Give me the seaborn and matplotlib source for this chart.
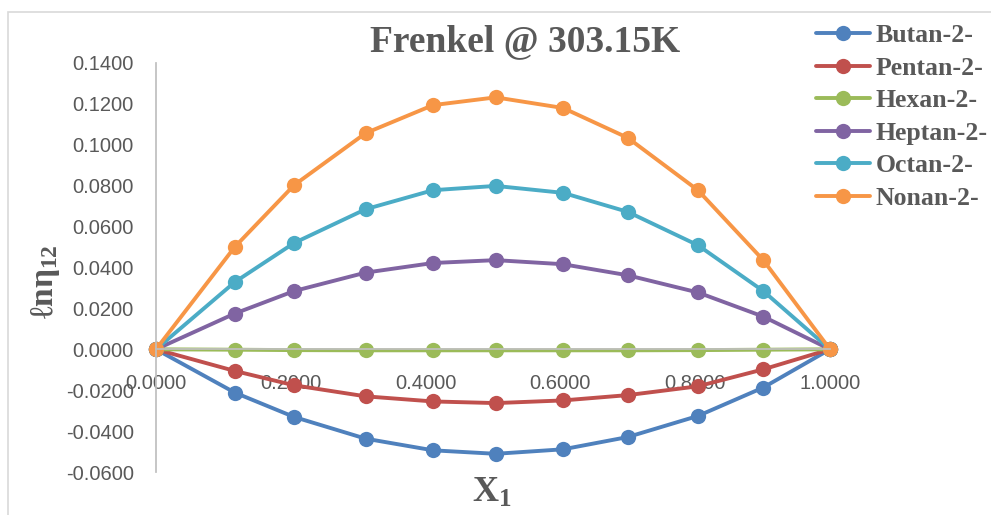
import pandas as pd
import seaborn as sns
import matplotlib.pyplot as plt
from matplotlib.patches import Rectangle

x1 = [0.0, 0.117, 0.205, 0.311, 0.411, 0.504, 0.604, 0.700, 0.804, 0.901, 1.0]
butan = [0.0, -0.0212, -0.0331, -0.0437, -0.0494, -0.0511, -0.0489, -0.0429, -0.0326, -0.0187, 0.0]
pentan = [0.0, -0.0106, -0.0176, -0.0230, -0.0255, -0.0263, -0.0250, -0.0224, -0.0181, -0.0098, 0.0]
hexan = [0.0, -0.0002, -0.0004, -0.0005, -0.0005, -0.0005, -0.0005, -0.0005, -0.0004, -0.0002, 0.0]
heptan = [0.0, 0.0175, 0.0285, 0.0375, 0.0422, 0.0436, 0.0416, 0.0362, 0.0278, 0.0160, 0.0]
octan = [0.0, 0.0329, 0.0520, 0.0685, 0.0778, 0.0799, 0.0765, 0.0672, 0.0509, 0.0285, 0.0]
nonan = [0.0, 0.0501, 0.0803, 0.1057, 0.1194, 0.1232, 0.1180, 0.1034, 0.0778, 0.0436, 0.0]

names = ['Butan-2-', 'Pentan-2-', 'Hexan-2-', 'Heptan-2-', 'Octan-2-', 'Nonan-2-']
colors = ['#4F81BD', '#C0504D', '#9BBB59', '#8064A2', '#4BACC6', '#F79646']
yticks = [-0.06, -0.04, -0.02, 0.0, 0.02, 0.04, 0.06, 0.08, 0.10, 0.12, 0.14]
xticks = [0.0, 0.2, 0.4, 0.6, 0.8, 1.0]

series = [butan, pentan, hexan, heptan, octan, nonan]
rows = []
for name, vals in zip(names, series):
    for xv, yv in zip(x1, vals):
        rows.append({'x': xv, 'y': yv, 'series': name})
df = pd.DataFrame(rows)

sns.set_theme(style='white')
plt.rcParams['font.family'] = ['Liberation Sans', 'DejaVu Sans']
plt.rcParams['mathtext.fontset'] = 'custom'
plt.rcParams['mathtext.rm'] = 'Liberation Serif:bold'
plt.rcParams['mathtext.bf'] = 'Liberation Serif:bold'
plt.rcParams['mathtext.it'] = 'Liberation Serif:bold'
grey = '#595959'
serif = ['Liberation Serif', 'DejaVu Serif']

fig = plt.figure(figsize=(9.91, 5.15), dpi=100)
fig.patches.append(Rectangle((8 / 991, -0.1), 2, 1 - 12 / 515 + 0.1,
                             transform=fig.transFigure, fill=False,
                             edgecolor='#d9d9d9', linewidth=1.2))
ax = fig.add_axes([156 / 991, 43 / 515, 674 / 991, 409 / 515])

sns.lineplot(data=df, x='x', y='y', hue='series', palette=colors,
             hue_order=names, marker='o', markersize=11, markeredgewidth=0,
             linewidth=2.8, ax=ax, legend=False, sort=False)
for ln in ax.lines:
    ln.set_clip_on(False)

ax.set_xlim(0, 1)
ax.set_ylim(-0.06, 0.14)
ax.set_yticks(yticks)
ax.set_yticklabels([f'{v:.4f}' for v in yticks])
ax.set_xticks(xticks)
ax.set_xticklabels([f'{v:.4f}' for v in xticks])
ax.tick_params(axis='both', length=0, labelsize=14.5, colors=grey)
ax.tick_params(axis='y', pad=16)
ax.tick_params(axis='x', pad=18)

for s in ['top', 'right']:
    ax.spines[s].set_visible(False)
ax.spines['bottom'].set_position(('data', 0))
ax.spines['bottom'].set_color('#bfbfbf')
ax.spines['left'].set_color('#bfbfbf')
ax.set_xlabel('')
ax.set_ylabel('')

fig.text(525 / 991, 1 - 42 / 515, 'Frenkel @ 303.15K', ha='center', va='center',
         fontsize=27, fontweight='bold', color=grey, family=serif)
fig.text(45 / 991, 1 - 282 / 515, 'ℓnη' + r'$_{12}$', ha='center', va='center',
         rotation=90, fontsize=24, fontweight='bold', color=grey, family=serif)
fig.text(492 / 991, 1 - 493 / 515, 'X' + r'$_{1}$', ha='center', va='center',
         fontsize=26, fontweight='bold', color=grey, family=serif)

handles = [plt.Line2D([], [], color=c, marker='o', markersize=11,
                      markeredgewidth=0, linewidth=2.8) for c in colors]
leg = fig.legend(handles, names, loc='upper left', bbox_to_anchor=(806 / 991, 1 - 14 / 515),
                 frameon=False, handlelength=2.1, handletextpad=0.2, labelspacing=0.37,
                 borderaxespad=0, borderpad=0.4,
                 prop={'family': 'Liberation Serif', 'weight': 'bold', 'size': 18.5})
for t in leg.get_texts():
    t.set_color(grey)

fig.savefig('out.png', dpi=100)
